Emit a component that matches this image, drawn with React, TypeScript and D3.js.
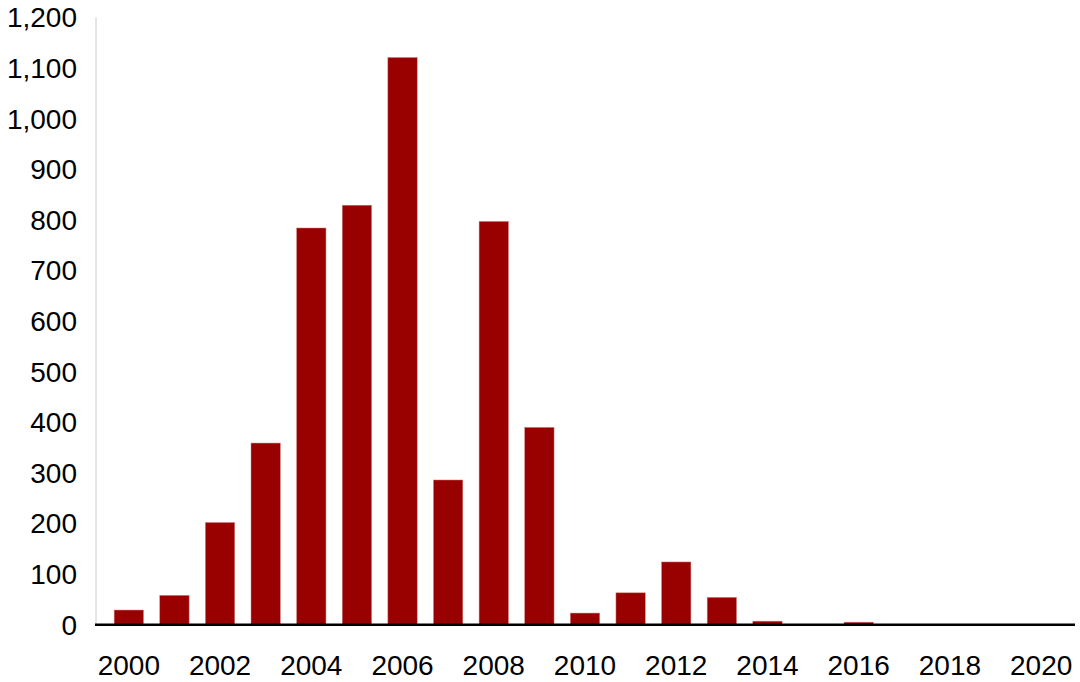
import React from "react";
import * as d3 from "d3";

const years = [
  "2000","2001","2002","2003","2004","2005","2006","2007","2008","2009","2010",
  "2011","2012","2013","2014","2015","2016","2017","2018","2019","2020",
];
const values = [29, 58, 202, 359, 784, 829, 1121, 286, 797, 390, 23, 63, 124, 54, 7, 0, 5, 0, 0, 0, 0];
const yTicks = [0, 100, 200, 300, 400, 500, 600, 700, 800, 900, 1000, 1100, 1200];
const xTickLabels = ["2000","2002","2004","2006","2008","2010","2012","2014","2016","2018","2020"];

const W = 1080;
const H = 682;
const left = 95;
const right = 1075;
const top = 17.5;
const bottom = 624.7;

export default function App() {
  const x = d3.scaleBand<string>().domain(years).range([left, right]).paddingInner(0.357).paddingOuter(0.42);
  const y = d3.scaleLinear().domain([0, 1200]).range([bottom, top]);
  const fmt = d3.format(",");
  const font = "'Liberation Sans', Arial, Helvetica, sans-serif";
  return (
    <svg width={W} height={H} style={{ position: "absolute", left: 0, top: 0 }}>
      <rect width={W} height={H} fill="#fff" />
      <line x1={left + 1} x2={left + 1} y1={y(1200)} y2={bottom} stroke="#cccccc" strokeWidth={1} />
      {years.map((yr, i) =>
        values[i] > 0 ? (
          <rect
            key={yr}
            x={x(yr)}
            y={y(values[i])}
            width={x.bandwidth()}
            height={bottom - y(values[i])}
            fill="#990000"
            stroke="#d08080"
            strokeWidth={0.5}
          />
        ) : null
      )}
      <line x1={left} x2={right} y1={bottom} y2={bottom} stroke="#000" strokeWidth={2.6} />
      {yTicks.map((t) => (
        <text key={t} x={77} y={y(t)} dy="0.35em" textAnchor="end" fontFamily={font} fontSize={28} fill="#000">
          {fmt(t)}
        </text>
      ))}
      {xTickLabels.map((l) => (
        <text key={l} x={(x(l) as number) + x.bandwidth() / 2} y={675} textAnchor="middle" fontFamily={font} fontSize={28} fill="#000">
          {l}
        </text>
      ))}
    </svg>
  );
}
